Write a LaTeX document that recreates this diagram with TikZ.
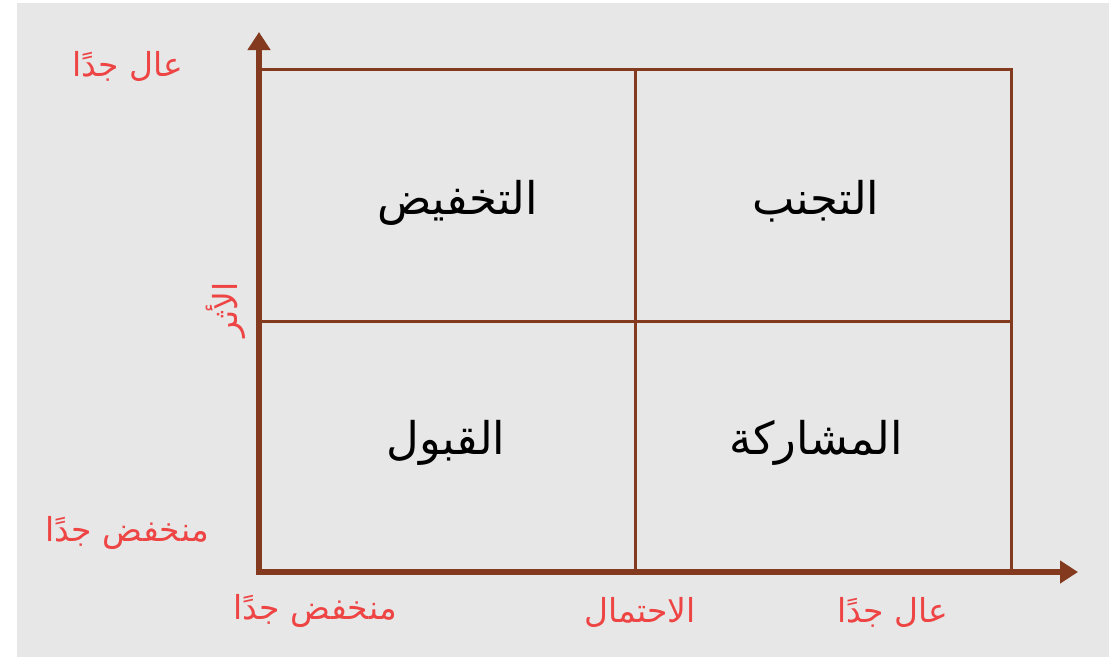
\documentclass[tikz,border=0pt]{standalone}
\usepackage{fontspec}
\newfontfamily\arabicfont[Script=Arabic]{DejaVu Sans}
\TeXXeTstate=1
\usetikzlibrary{arrows.meta}
\definecolor{bgc}{HTML}{E6E7E6}
\definecolor{axisc}{HTML}{843A1E}
\definecolor{lblc}{HTML}{EE4444}
\tikzset{
  axisline/.style={draw=axisc, line width=5.5pt, -{Triangle[length=18pt,width=22pt]}},
  gridline/.style={draw=axisc, line width=3pt},
  quad/.style={font=\arabicfont\fontsize{45}{54}\selectfont, text=black, inner sep=0pt},
  lbl/.style={font=\arabicfont\fontsize{33}{40}\selectfont, text=lblc, inner sep=0pt}
}
\begin{document}
\begin{tikzpicture}[x=1pt,y=-1pt]
\useasboundingbox (0,0) rectangle (1120,657);
\fill[white] (0,0) rectangle (1120,657);
\fill[bgc] (17,3) rectangle (1109,657);
% grid
\coordinate (o) at (259,572);
\coordinate (tl) at (259,69);
\coordinate (br) at (1011,572);
\coordinate (mt) at (635,69);
\coordinate (mb) at (635,572);
\coordinate (ml) at (259,321);
\coordinate (mr) at (1011,321);
\coordinate (xend) at (1078,572);
\coordinate (yend) at (259,32);
\draw[gridline] (tl) rectangle (br);
\draw[gridline] (mt) -- (mb);
\draw[gridline] (ml) -- (mr);
\draw[axisline] ([yshift=-2.75pt]o) -- (yend);
\draw[axisline] ([xshift=-2.75pt]o) -- (xend);
% quadrants
\node[quad] (q1) at (458,203) {\beginR التخفيض\endR};
\node[quad] (q2) at (816,201) {\beginR التجنب\endR};
\node[quad] (q3) at (446,443) {\beginR القبول\endR};
\node[quad] (q4) at (816,443) {\beginR المشاركة\endR};
% labels
\node[lbl] (yhigh) at (128,66) {\beginR عال جدًا\endR};
\node[lbl, rotate=90] (ytitle) at (226,310) {\beginR الأثر\endR};
\node[lbl] (ylow) at (127,533) {\beginR منخفض جدًا\endR};
\node[lbl] (xlow) at (315,611) {\beginR منخفض جدًا\endR};
\node[lbl] (xtitle) at (640,612) {\beginR الاحتمال\endR};
\node[lbl] (xhigh) at (893,612) {\beginR عال جدًا\endR};
\end{tikzpicture}
\end{document}
